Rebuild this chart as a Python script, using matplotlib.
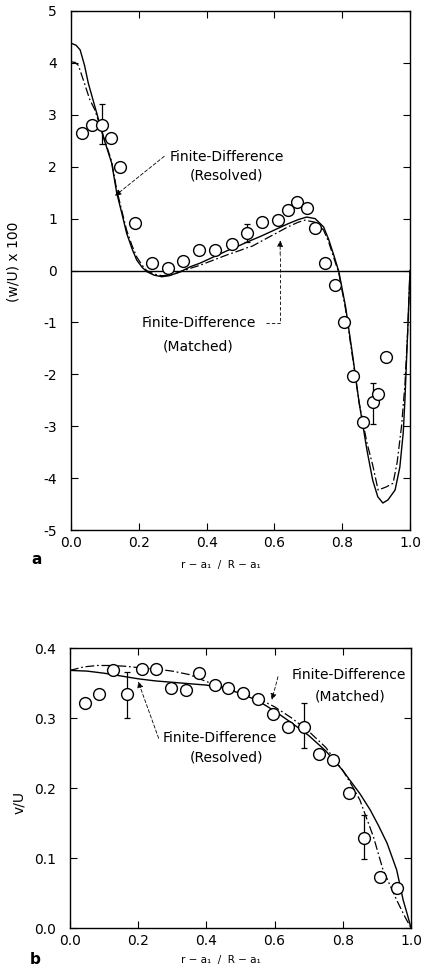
import numpy as np
import matplotlib
matplotlib.use("Agg")
import matplotlib.pyplot as plt

# ============================================================
# DATA
# ============================================================

# --- panel a : (w/U) x 100 ---
A_OBS_X = [0.032, 0.062, 0.091, 0.118, 0.145, 0.19, 0.238, 0.285, 0.33, 0.378,
           0.425, 0.475, 0.518, 0.563, 0.61, 0.64, 0.667, 0.695, 0.72, 0.75,
           0.78, 0.805, 0.833, 0.862, 0.892, 0.906, 0.93]
A_OBS_Y = [2.65, 2.80, 2.80, 2.55, 2.00, 0.92, 0.14, 0.05, 0.18, 0.40,
           0.40, 0.51, 0.72, 0.94, 0.97, 1.17, 1.32, 1.20, 0.82, 0.14,
           -0.27, -0.99, -2.03, -2.92, -2.54, -2.38, -1.67]

A_EB_X = [0.091, 0.518, 0.892]
A_EB_Y = [2.80, 0.72, -2.54]
A_EB_LO = [2.43, 0.55, -2.96]
A_EB_HI = [3.21, 0.90, -2.17]

A_RES_X = [0.0, 0.015, 0.027, 0.04, 0.051, 0.076, 0.095, 0.12, 0.135, 0.15,
           0.164, 0.18, 0.194, 0.21, 0.223, 0.245, 0.268, 0.29, 0.312, 0.33,
           0.351, 0.38, 0.42, 0.46, 0.5, 0.52, 0.56, 0.6, 0.64, 0.67,
           0.695, 0.72, 0.745, 0.76, 0.775, 0.79, 0.81, 0.83, 0.85, 0.873,
           0.89, 0.905, 0.92, 0.935, 0.956, 0.97, 0.98, 0.985, 0.993, 1.0]
A_RES_Y = [4.38, 4.34, 4.25, 3.95, 3.61, 3.03, 2.58, 2.07, 1.49, 1.10,
           0.72, 0.42, 0.20, 0.06, -0.02, -0.09, -0.12, -0.10, -0.05, 0.0,
           0.07, 0.14, 0.26, 0.38, 0.49, 0.55, 0.66, 0.78, 0.90, 0.98,
           1.03, 1.00, 0.84, 0.60, 0.30, -0.02, -0.70, -1.60, -2.55, -3.46,
           -4.04, -4.36, -4.48, -4.42, -4.23, -3.79, -3.13, -2.50, -1.20, 0.0]

A_MAT_X = [0.0, 0.012, 0.022, 0.04, 0.055, 0.07, 0.095, 0.12, 0.135, 0.15,
           0.164, 0.18, 0.194, 0.21, 0.223, 0.245, 0.268, 0.29, 0.312, 0.33,
           0.351, 0.38, 0.42, 0.46, 0.5, 0.52, 0.535, 0.56, 0.6, 0.64,
           0.67, 0.69, 0.72, 0.745, 0.76, 0.775, 0.79, 0.81, 0.83, 0.85,
           0.873, 0.89, 0.906, 0.93, 0.95, 0.962, 0.975, 0.985, 0.993, 1.0]
A_MAT_Y = [4.02, 4.01, 3.95, 3.60, 3.30, 3.10, 2.60, 2.10, 1.55, 1.15,
           0.78, 0.48, 0.26, 0.10, 0.0, -0.07, -0.10, -0.09, -0.05, -0.01,
           0.04, 0.10, 0.20, 0.30, 0.39, 0.44, 0.47, 0.56, 0.70, 0.84,
           0.93, 0.97, 0.93, 0.78, 0.55, 0.25, -0.05, -0.75, -1.65, -2.55,
           -3.32, -3.75, -4.23, -4.17, -4.10, -3.70, -3.00, -2.20, -1.20, 0.0]

# --- panel b : v/U ---
B_OBS_X = [0.044, 0.085, 0.126, 0.167, 0.211, 0.252, 0.296, 0.34, 0.378, 0.425,
           0.464, 0.508, 0.552, 0.596, 0.64, 0.686, 0.73, 0.771, 0.818, 0.862,
           0.909, 0.959]
B_OBS_Y = [0.321, 0.334, 0.369, 0.334, 0.370, 0.370, 0.343, 0.340, 0.364, 0.347,
           0.343, 0.336, 0.327, 0.306, 0.287, 0.287, 0.249, 0.240, 0.193, 0.129,
           0.073, 0.057]

B_EB_X = [0.167, 0.686, 0.862]
B_EB_Y = [0.334, 0.287, 0.129]
B_EB_LO = [0.300, 0.257, 0.098]
B_EB_HI = [0.366, 0.321, 0.161]

B_RES_X = [0.0, 0.05, 0.1, 0.15, 0.2, 0.25, 0.3, 0.35, 0.4, 0.45, 0.5, 0.55,
           0.6, 0.65, 0.7, 0.75, 0.8, 0.821, 0.85, 0.88, 0.905, 0.93, 0.958,
           0.977, 0.99, 1.0]
B_RES_Y = [0.368, 0.367, 0.364, 0.360, 0.356, 0.353, 0.351, 0.349, 0.347, 0.343,
           0.335, 0.325, 0.310, 0.293, 0.275, 0.253, 0.225, 0.211, 0.192, 0.169,
           0.146, 0.121, 0.083, 0.040, 0.018, 0.0]

B_MAT_X = [0.0, 0.04, 0.08, 0.12, 0.16, 0.2, 0.25, 0.3, 0.35, 0.4, 0.45, 0.5,
           0.55, 0.6, 0.65, 0.7, 0.75, 0.8, 0.825, 0.85, 0.89, 0.918, 0.958,
           0.98, 1.0]
B_MAT_Y = [0.368, 0.373, 0.375, 0.375, 0.374, 0.372, 0.370, 0.367, 0.362, 0.352,
           0.344, 0.337, 0.328, 0.316, 0.300, 0.281, 0.258, 0.225, 0.205, 0.183,
           0.130, 0.083, 0.040, 0.018, 0.0]

A_XTICKS = [0.0, 0.2, 0.4, 0.6, 0.8, 1.0]
A_YTICKS = [-5, -4, -3, -2, -1, 0, 1, 2, 3, 4, 5]
B_YTICKS = [0.0, 0.1, 0.2, 0.3, 0.4]

LABEL_FD = "Finite-Difference"
LABEL_RES = "(Resolved)"
LABEL_MAT = "(Matched)"

# ============================================================
# STYLE
# ============================================================

plt.rcParams["font.family"] = ["DejaVu Sans"]
plt.rcParams["axes.unicode_minus"] = False

W, H = 421, 976
DASHDOT = (0, (7, 2.2, 1.4, 2.2))
LEADER = (0, (4, 2.5))
ANN_FS = 10


def obs(ax, x, y, ebx, eby, lo, hi):
    eby = np.asarray(eby)
    yerr = [eby - np.asarray(lo), np.asarray(hi) - eby]
    ax.errorbar(ebx, eby, yerr=yerr, fmt="none", ecolor="k",
                elinewidth=0.9, capsize=2.5, capthick=0.9, zorder=3)
    ax.plot(x, y, "o", ms=8.5, mfc="white", mec="k", mew=1.0, zorder=4)


def style_axes(ax):
    ax.tick_params(direction="in", top=True, right=True, length=5, width=0.8,
                   labelsize=10)
    ax.tick_params(axis="x", pad=4)
    ax.tick_params(axis="y", pad=10)
    for s in ax.spines.values():
        s.set_linewidth(1.0)


def leader(ax, tip, tail):
    ax.annotate("", xy=tip, xytext=tail,
                arrowprops=dict(arrowstyle="-|>", lw=0.6, ls=LEADER,
                                color="k", mutation_scale=9,
                                shrinkA=0, shrinkB=0))


def main() -> None:
    fig = plt.figure(figsize=(W / 100, H / 100), dpi=100)

    # ---------------- panel a ----------------
    ax1 = fig.add_axes([71 / W, 1 - 530 / H, 339 / W, 519 / H])
    ax1.axhline(0, color="k", lw=1.0, zorder=1)
    ax1.plot(A_RES_X, A_RES_Y, color="k", lw=1.0, zorder=2)
    ax1.plot(A_MAT_X, A_MAT_Y, color="k", lw=0.9, ls=DASHDOT, zorder=2)
    obs(ax1, A_OBS_X, A_OBS_Y, A_EB_X, A_EB_Y, A_EB_LO, A_EB_HI)

    ax1.set_xlim(0, 1)
    ax1.set_ylim(-5, 5)
    ax1.set_xticks(A_XTICKS)
    ax1.set_xticklabels([f"{t:.1f}" for t in A_XTICKS])
    ax1.set_yticks(A_YTICKS)
    style_axes(ax1)
    ax1.set_ylabel("(w/U) x 100", fontsize=10)
    ax1.yaxis.set_label_coords(-0.15, 0.516)
    ax1.set_xlabel("r − a₁  /  R − a₁", fontsize=7.5)
    ax1.xaxis.set_label_coords(0.443, -0.058)

    ax1.text(0.292, 2.19, LABEL_FD, fontsize=ANN_FS, va="center")
    ax1.text(0.351, 1.84, LABEL_RES, fontsize=ANN_FS, va="center")
    leader(ax1, (0.13, 1.44), (0.275, 2.2))

    ax1.text(0.209, -1.01, LABEL_FD, fontsize=ANN_FS, va="center")
    ax1.text(0.271, -1.47, LABEL_MAT, fontsize=ANN_FS, va="center")
    ax1.plot([0.575, 0.617, 0.617], [-1.01, -1.01, 0.3], color="k", lw=0.6,
             ls=LEADER)
    leader(ax1, (0.617, 0.58), (0.617, 0.3))

    fig.text(37 / W, 1 - 560 / H, "a", fontsize=11, fontweight="bold",
             ha="center", va="center")

    # ---------------- panel b ----------------
    ax2 = fig.add_axes([70 / W, 1 - 928 / H, 341 / W, 280 / H])
    ax2.plot(B_RES_X, B_RES_Y, color="k", lw=1.0, zorder=2)
    ax2.plot(B_MAT_X, B_MAT_Y, color="k", lw=0.9, ls=DASHDOT, zorder=2)
    obs(ax2, B_OBS_X, B_OBS_Y, B_EB_X, B_EB_Y, B_EB_LO, B_EB_HI)

    ax2.set_xlim(0, 1)
    ax2.set_ylim(0, 0.4)
    ax2.set_xticks(A_XTICKS)
    ax2.set_xticklabels([f"{t:.1f}" for t in A_XTICKS])
    ax2.set_yticks(B_YTICKS)
    ax2.set_yticklabels([f"{t:.1f}" for t in B_YTICKS])
    style_axes(ax2)
    ax2.set_ylabel("v/U", fontsize=10)
    ax2.yaxis.set_label_coords(-0.13, 0.45)
    ax2.set_xlabel("r − a₁  /  R − a₁", fontsize=7.5)
    ax2.xaxis.set_label_coords(0.443, -0.096)

    ax2.text(0.651, 0.361, LABEL_FD, fontsize=ANN_FS, va="center")
    ax2.text(0.718, 0.330, LABEL_MAT, fontsize=ANN_FS, va="center")
    leader(ax2, (0.592, 0.326), (0.61, 0.359))

    ax2.text(0.273, 0.271, LABEL_FD, fontsize=ANN_FS, va="center")
    ax2.text(0.352, 0.244, LABEL_RES, fontsize=ANN_FS, va="center")
    leader(ax2, (0.2, 0.352), (0.26, 0.271))

    fig.text(35 / W, 1 - 960 / H, "b", fontsize=11, fontweight="bold",
             ha="center", va="center")

    fig.savefig("out.png", dpi=100)


if __name__ == "__main__":
    main()
